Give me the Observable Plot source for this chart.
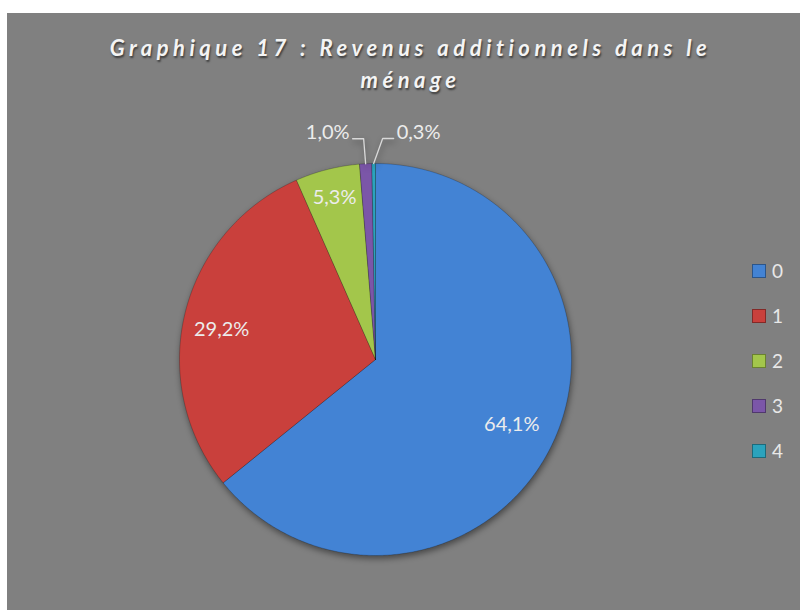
<!DOCTYPE html>
<html><head><meta charset="utf-8">
<script src="https://cdn.jsdelivr.net/npm/d3@7"></script>
<script src="https://cdn.jsdelivr.net/npm/@observablehq/plot@0.6"></script>
<style>
html,body{margin:0;padding:0;background:#fff;width:800px;height:610px;overflow:hidden;}
#frame{position:absolute;left:7px;top:13px;width:793px;height:597px;background:#808080;}
#title{position:absolute;left:2px;top:19px;width:803px;text-align:center;font-family:Lato,sans-serif;font-style:italic;font-weight:bold;font-size:22px;letter-spacing:4.5px;line-height:32px;color:#f4f4f4;text-shadow:1px 2px 2px rgba(0,0,0,0.55);}
#chart{position:absolute;left:0;top:0;}
#chart svg g[aria-label="line"]{filter:drop-shadow(1px 3px 3px rgba(0,0,0,0.45));}
#legend{position:absolute;left:745px;top:235px;font-family:Lato,sans-serif;font-size:19px;color:#e8e8e8;}
.li{height:45px;display:flex;align-items:center;}
.sw{width:14px;height:14px;margin-right:6px;box-sizing:border-box;border:1px solid rgba(0,0,0,0.35);}
</style></head>
<body>
<div id="frame"><div id="chart"></div><div id="title">Graphique 17 : Revenus additionnels dans le<br>ménage</div><div id="legend"></div></div>
<script>
const categories = ["0", "1", "2", "3", "4"];
const values = [64.1, 29.2, 5.3, 1.0, 0.3];
const labels = ["64,1%", "29,2%", "5,3%", "1,0%", "0,3%"];
const colors = ["#4383d4", "#c9403c", "#a3c64b", "#7b56a8", "#2ba3bd"];

const W = 793, H = 597, CX = 368, CY = 346, R = 196;

const pie = d3.pie().sort(null).value(d => d.value)
  .startAngle(0).endAngle(2 * Math.PI);
const rows = categories.map((c, i) => ({cat: c, value: values[i], label: labels[i]}));
const arcs = pie(rows);

// polygon points of each slice (unit radius, y up)
const pts = [];
arcs.forEach(a => {
  const n = Math.max(2, Math.ceil((a.endAngle - a.startAngle) / (Math.PI / 360)));
  pts.push({cat: a.data.cat, x: 0, y: 0});
  for (let k = 0; k <= n; k++) {
    const t = a.startAngle + (a.endAngle - a.startAngle) * k / n;
    pts.push({cat: a.data.cat, x: Math.sin(t), y: Math.cos(t)});
  }
  pts.push({cat: a.data.cat, x: 0, y: 0});
});

// labels (layout: radius fraction and angular nudge, in degrees)
const inside = [], leaders = [], outside = [];
const inR = [0.77, 0.8, 0.85];
const inShift = [0, -2.5, 0];
arcs.forEach((a, i) => {
  const m = (a.startAngle + a.endAngle) / 2;
  if (a.data.value >= 2) {
    const t = m + inShift[i] * Math.PI / 180;
    inside.push({x: inR[i] * Math.sin(t), y: inR[i] * Math.cos(t), label: a.data.label});
  } else {
    const dir = i === 3 ? -1 : 1;
    const p0 = {x: Math.sin(m), y: Math.cos(m)};
    const p1 = {x: p0.x + (dir < 0 ? -2 : 9) / R, y: p0.y + 25 / R};
    const p2 = {x: p1.x + dir * 11 / R, y: p1.y};
    [p0, p1, p2].forEach(p => leaders.push({...p, cat: a.data.cat}));
    outside.push({x: p2.x + dir * 3 / R, y: p2.y + 6 / R, label: a.data.label, anchor: dir < 0 ? "end" : "start"});
  }
});

const font = {fill: "#ececec", fontSize: 20, fontFamily: "Lato, sans-serif"};
const chart = Plot.plot({
  width: W, height: H,
  margin: 0,
  style: {background: "transparent", overflow: "visible"},
  x: {domain: [-CX / R, (W - CX) / R], range: [0, W], axis: null},
  y: {domain: [-(H - CY) / R, CY / R], range: [H, 0], axis: null},
  color: {domain: categories, range: colors},
  marks: [
    Plot.line(pts, {x: "x", y: "y", z: "cat", fill: "cat", stroke: "rgba(0,0,0,0.25)", strokeWidth: 0.8, curve: "linear"}),
    Plot.line(leaders, {x: "x", y: "y", z: "cat", stroke: "#d9d9d9", strokeWidth: 1.3}),
    Plot.text(inside, {x: "x", y: "y", text: "label", ...font}),
    Plot.text(outside.filter(d => d.anchor === "end"), {x: "x", y: "y", text: "label", ...font, textAnchor: "end"}),
    Plot.text(outside.filter(d => d.anchor === "start"), {x: "x", y: "y", text: "label", ...font, textAnchor: "start"})
  ]
});
document.getElementById("chart").appendChild(chart);

const lg = document.getElementById("legend");
categories.forEach((c, i) => {
  const d = document.createElement("div");
  d.className = "li";
  d.innerHTML = `<span class="sw" style="background:${colors[i]}"></span><span>${c}</span>`;
  lg.appendChild(d);
});
</script>
</body></html>
